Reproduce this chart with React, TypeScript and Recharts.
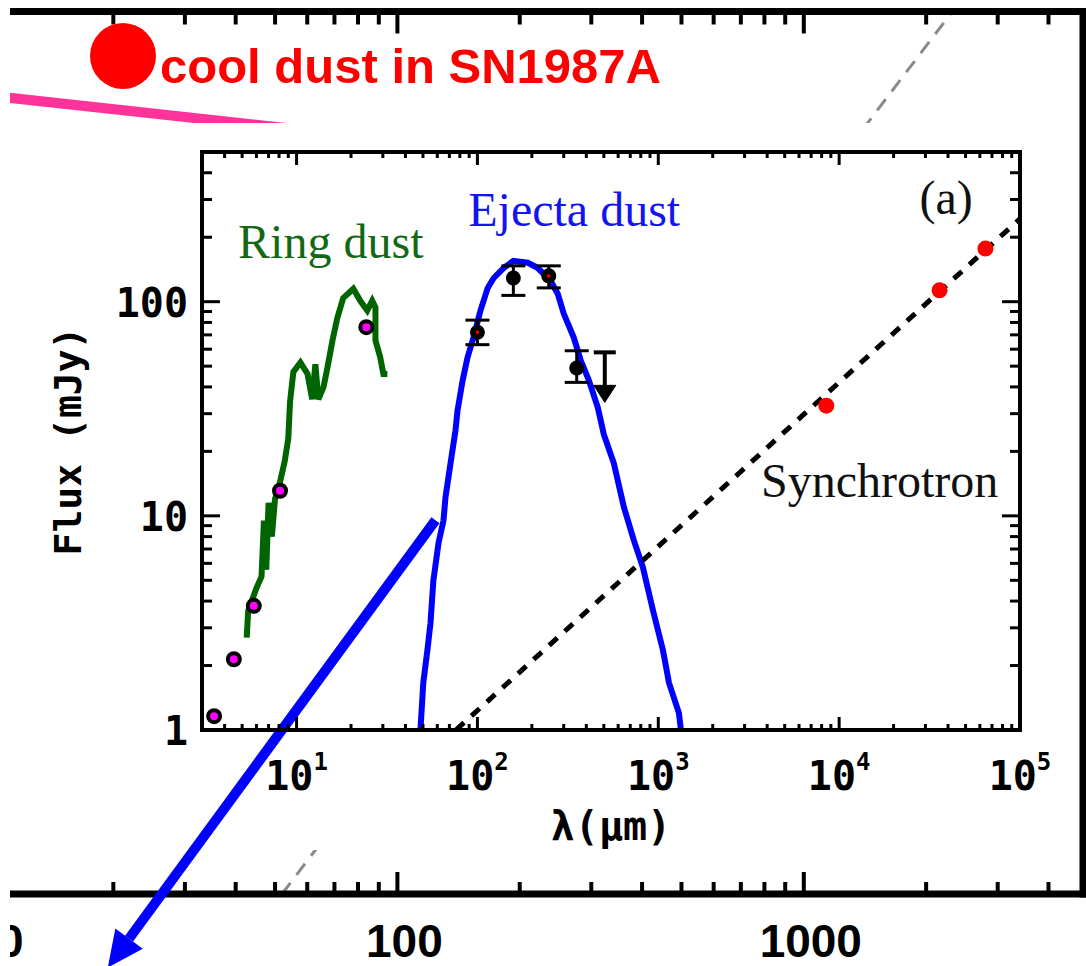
import {
  ComposedChart,
  Line,
  Scatter,
  XAxis,
  YAxis,
  ErrorBar,
  ReferenceDot,
  ReferenceLine,
} from "recharts";

// inset: SED of SN1987A, lambda in micron, flux in mJy
const ringSpectrum = [
  { x: 5.3, y: 2.7 }, { x: 5.4, y: 3.6 }, { x: 6.0, y: 4.6 }, { x: 6.4, y: 5.2 },
  { x: 6.6, y: 9.5 }, { x: 6.8, y: 5.6 }, { x: 7.0, y: 11.5 }, { x: 7.3, y: 8.0 },
  { x: 7.6, y: 12.0 }, { x: 7.9, y: 13.1 }, { x: 8.6, y: 18 }, { x: 9.0, y: 23 },
  { x: 9.2, y: 34 }, { x: 9.6, y: 47 }, { x: 10.5, y: 52 }, { x: 11.5, y: 46 },
  { x: 12.2, y: 35 }, { x: 12.7, y: 51 }, { x: 13.2, y: 35 }, { x: 14.1, y: 40 },
  { x: 14.8, y: 49 }, { x: 15.8, y: 66 }, { x: 16.8, y: 84 }, { x: 18.1, y: 104 },
  { x: 20.6, y: 115 }, { x: 22.5, y: 101 }, { x: 24.6, y: 91 }, { x: 26.2, y: 101 },
  { x: 27.3, y: 94 }, { x: 27.3, y: 66 }, { x: 29, y: 55 }, { x: 30.2, y: 46 },
  { x: 31.8, y: 46 },
];

const ringPhotometry = [
  { x: 3.5, y: 1.16 }, { x: 4.5, y: 2.14 }, { x: 5.8, y: 3.8 }, { x: 8.1, y: 13.1 }, { x: 24.3, y: 76 },
];

const ejectaModel = [
  { x: 48.4, y: 1.0 }, { x: 50.2, y: 1.66 }, { x: 52.9, y: 2.36 }, { x: 55, y: 3.15 },
  { x: 57.1, y: 5.0 }, { x: 60.9, y: 7.45 }, { x: 64.9, y: 9.5 }, { x: 66.6, y: 12.2 },
  { x: 71, y: 17.6 }, { x: 75.6, y: 25 }, { x: 77.6, y: 31 }, { x: 82.8, y: 42.8 },
  { x: 88.1, y: 54.8 }, { x: 95.1, y: 68 }, { x: 104, y: 91 }, { x: 114, y: 116 },
  { x: 123, y: 129 }, { x: 140, y: 144 }, { x: 158, y: 155 }, { x: 190, y: 152 },
  { x: 215, y: 144 }, { x: 254, y: 125 }, { x: 278, y: 109 }, { x: 300, y: 88 },
  { x: 341, y: 68 }, { x: 373, y: 53 }, { x: 413, y: 43 }, { x: 463, y: 32 },
  { x: 500, y: 24 }, { x: 568, y: 17.6 }, { x: 645, y: 11 }, { x: 732, y: 7.7 },
  { x: 822, y: 5.75 }, { x: 934, y: 3.63 }, { x: 1061, y: 2.36 }, { x: 1146, y: 1.66 },
  { x: 1301, y: 1.2 }, { x: 1334, y: 1.0 },
];

// err = [below, above]
const ejectaPhotometry = [
  { x: 100, y: 72, err: [9, 10], hot: true },
  { x: 158, y: 129, err: [22, 18], hot: false },
  { x: 248, y: 132, err: [16, 15], hot: true },
  { x: 354, y: 49, err: [7, 10], hot: false },
];
const ejectaUpperLimit = [{ x: 506, y: 58 }];

const synchrotronModel = [
  { x: 76, y: 1 }, { x: 1000, y: 7.2 }, { x: 10000, y: 42 }, { x: 100000, y: 244 },
];
const radioPoints = [
  { x: 8490, y: 32.7 }, { x: 35900, y: 113 }, { x: 64400, y: 177 },
];

const insetXTicks = [
  3, 4, 5, 6, 7, 8, 9,
  10, 20, 30, 40, 50, 60, 70, 80, 90,
  100, 200, 300, 400, 500, 600, 700, 800, 900,
  1000, 2000, 3000, 4000, 5000, 6000, 7000, 8000, 9000,
  10000, 20000, 30000, 40000, 50000, 60000, 70000, 80000, 90000,
  100000,
];
const insetYTicks = [
  1, 2, 3, 4, 5, 6, 7, 8, 9,
  10, 20, 30, 40, 50, 60, 70, 80, 90,
  100, 200, 300, 400, 500,
];

const notes = [
  { text: "Ring dust", x: 4.75, y: 160 },
  { text: "Ejecta dust", x: 89, y: 226 },
  { text: "(a)", x: 27800, y: 257 },
  { text: "Synchrotron", x: 3700, y: 12.2 },
];
const noteColor: Record<string, string> = {
  "Ring dust": "#146814",
  "Ejecta dust": "#1414f0",
  "(a)": "#111",
  Synchrotron: "#111",
};

const arrowSegment = [
  { x: 58.6, y: 9.53 },
  { x: 0.904, y: 0.0777 },
];

// background slide chart
const outerXTicks = [
  10, 20, 30, 40, 50, 60, 70, 80, 90,
  100, 200, 300, 400, 500, 600, 700, 800, 900,
  1000, 2000, 3000, 4000,
];
const outerYTicks = [1, 2, 3, 4, 5, 6, 7, 8, 9, 10];
const outerSlopeLine = [
  { x: 52, y: 0.001 },
  { x: 2320, y: 10 },
];
const outerPinkLine = [
  { x: 11, y: 4.07 },
  { x: 316, y: 2.07 },
];

const MONO = "'DejaVu Sans Mono', monospace";
const SERIF = "'Liberation Serif', 'Times New Roman', serif";
const SANS = "'Liberation Sans', Arial, sans-serif";

const isDecade = (v: number) => Math.abs(Math.log10(v) - Math.round(Math.log10(v))) < 1e-6;

function InsetBottomTick({ x, y, payload }: any) {
  const v = payload.value;
  const major = isDecade(v);
  return (
    <g>
      <line x1={x} x2={x} y1={y} y2={y - (major ? 13 : 6)} stroke="#000" strokeWidth={3} />
      {major && (
        <text x={x} y={y + 60} textAnchor="middle" fontFamily={MONO} fontWeight="bold" fontSize={40} fill="#000">
          10
          <tspan dy={-20} fontSize={24}>
            {Math.round(Math.log10(v))}
          </tspan>
        </text>
      )}
    </g>
  );
}

function InsetTopTick({ x, y, payload }: any) {
  const major = isDecade(payload.value);
  return <line x1={x} x2={x} y1={y} y2={y + (major ? 13 : 6)} stroke="#000" strokeWidth={3} />;
}

function InsetLeftTick({ x, y, payload }: any) {
  const v = payload.value;
  const major = isDecade(v);
  return (
    <g>
      <line x1={x} x2={x + (major ? 18 : 10)} y1={y} y2={y} stroke="#000" strokeWidth={3} />
      {major && (
        <text x={x - 14} y={y + 15} textAnchor="end" fontFamily={MONO} fontWeight="bold" fontSize={40} fill="#000">
          {v}
        </text>
      )}
    </g>
  );
}

function InsetRightTick({ x, y, payload }: any) {
  const major = isDecade(payload.value);
  return <line x1={x} x2={x - (major ? 18 : 10)} y1={y} y2={y} stroke="#000" strokeWidth={3} />;
}

function OuterBottomTick({ x, y, payload }: any) {
  const v = payload.value;
  const major = isDecade(v);
  return (
    <g>
      <line x1={x} x2={x} y1={y} y2={y - (major ? 22 : 12)} stroke="#000" strokeWidth={4} />
      {major && (
        <text x={x + 7} y={y + 63} textAnchor="middle" fontFamily={SANS} fontWeight="bold" fontSize={46} fill="#000">
          {v}
        </text>
      )}
    </g>
  );
}

function OuterTopTick({ x, y, payload }: any) {
  const major = isDecade(payload.value);
  return <line x1={x} x2={x} y1={y} y2={y + (major ? 22 : 13)} stroke="#000" strokeWidth={4} />;
}

function RingMarker({ cx, cy }: any) {
  return <circle cx={cx} cy={cy} r={6} fill="#ff00ff" stroke="#000" strokeWidth={4} />;
}

function EjectaMarker({ cx, cy, payload }: any) {
  return (
    <g>
      <circle cx={cx} cy={cy} r={7.5} fill="#000" />
      {payload.hot && <rect x={cx - 1.5} y={cy - 1.5} width={3} height={3} fill="#ff0000" />}
    </g>
  );
}

function UpperLimitMarker({ cx, cy }: any) {
  return (
    <g stroke="#000" strokeWidth={4}>
      <line x1={cx - 11} x2={cx + 11} y1={cy} y2={cy} />
      <line x1={cx} x2={cx} y1={cy} y2={cy + 38} />
      <polygon
        points={`${cx - 11},${cy + 33} ${cx + 11},${cy + 33} ${cx},${cy + 50}`}
        fill="#000"
        strokeWidth={1}
      />
    </g>
  );
}

function RadioMarker({ cx, cy }: any) {
  return <circle cx={cx} cy={cy} r={8} fill="#ff0000" />;
}

function BlueArrow({ x1, y1, x2, y2 }: any) {
  const dx = x2 - x1;
  const dy = y2 - y1;
  const len = Math.hypot(dx, dy);
  const ux = dx / len;
  const uy = dy / len;
  const head = 36;
  const half = 17;
  const bx = x2 - ux * head;
  const by = y2 - uy * head;
  return (
    <g>
      <line x1={x1} y1={y1} x2={bx} y2={by} stroke="#0000ff" strokeWidth={10} />
      <polygon
        points={`${x2},${y2} ${bx - uy * half},${by + ux * half} ${bx + uy * half},${by - ux * half}`}
        fill="#0000ff"
      />
    </g>
  );
}

const frameLine = { stroke: "#000", strokeWidth: 4, strokeLinecap: "square" as const };
const outerLine = { stroke: "#000", strokeWidth: 7, strokeLinecap: "square" as const };

export default function App() {
  return (
    <div style={{ position: "relative", width: 1086, height: 966, overflow: "hidden", background: "#fff" }}>
      <style>{"body{margin:0}"}</style>

      {/* slide background chart */}
      <div style={{ position: "absolute", left: 10, top: 0, width: 1076, height: 966, overflow: "hidden" }}>
        <div style={{ position: "absolute", left: -19, top: 0 }}>
          <ComposedChart width={1100} height={966} margin={{ top: 10.5, right: 8, bottom: 71, left: 0 }}>
            <XAxis
              dataKey="x"
              type="number"
              scale="log"
              domain={[10, 4864]}
              allowDataOverflow
              ticks={outerXTicks}
              interval={0}
              height={1}
              tickSize={0}
              tickMargin={0}
              tickLine={false}
              axisLine={outerLine}
              tick={(p: any) => <OuterBottomTick {...p} />}
            />
            <XAxis
              xAxisId="top"
              orientation="top"
              dataKey="x"
              type="number"
              scale="log"
              domain={[10, 4864]}
              allowDataOverflow
              ticks={outerXTicks}
              interval={0}
              height={1}
              tickSize={0}
              tickMargin={0}
              tickLine={false}
              axisLine={outerLine}
              tick={(p: any) => <OuterTopTick {...p} />}
            />
            <YAxis
              dataKey="y"
              orientation="right"
              mirror
              type="number"
              scale="log"
              domain={[0.001, 10]}
              allowDataOverflow
              ticks={outerYTicks}
              interval={0}
              width={1}
              tick={false}
              tickSize={9}
              tickLine={{ stroke: "#000", strokeWidth: 4 }}
              axisLine={outerLine}
            />
            <Line
              data={outerPinkLine}
              dataKey="y"
              stroke="#ff3399"
              strokeWidth={10}
              dot={false}
              isAnimationActive={false}
            />
            <Line
              data={outerSlopeLine}
              dataKey="y"
              stroke="#8a8a8a"
              strokeWidth={3}
              strokeDasharray="14 10"
              dot={false}
              isAnimationActive={false}
            />
          </ComposedChart>
        </div>
      </div>

      <div style={{ position: "absolute", left: 90, top: 23, width: 66, height: 66, borderRadius: "50%", background: "#ff0000" }} />
      <div
        style={{
          position: "absolute",
          left: 160,
          top: 42,
          fontFamily: SANS,
          fontWeight: "bold",
          fontSize: 49,
          lineHeight: "49px",
          color: "#ff0000",
          whiteSpace: "nowrap",
        }}
      >
        cool dust in SN1987A
      </div>

      {/* pasted figure area */}
      <div style={{ position: "absolute", left: 0, top: 123, width: 1079, height: 727, background: "#fff" }} />

      <div style={{ position: "absolute", left: 0, top: 0 }}>
        <ComposedChart width={1086} height={966} margin={{ top: 151, right: 65, bottom: 235, left: 201 }}>
          <XAxis
            dataKey="x"
            type="number"
            scale="log"
            domain={[3, 100000]}
            allowDataOverflow
            ticks={insetXTicks}
            interval={0}
            height={1}
            tickSize={0}
            tickMargin={0}
            tickLine={false}
            axisLine={frameLine}
            tick={(p: any) => <InsetBottomTick {...p} />}
            label={{
              content: ({ viewBox }: any) => (
                <text
                  x={viewBox.x + viewBox.width / 2}
                  y={viewBox.y + 110}
                  textAnchor="middle"
                  fontFamily={MONO}
                  fontWeight="bold"
                  fontSize={40}
                  fill="#000"
                >
                  λ(μm)
                </text>
              ),
            }}
          />
          <XAxis
            xAxisId="top"
            orientation="top"
            dataKey="x"
            type="number"
            scale="log"
            domain={[3, 100000]}
            allowDataOverflow
            ticks={insetXTicks}
            interval={0}
            height={1}
            tickSize={0}
            tickMargin={0}
            tickLine={false}
            axisLine={frameLine}
            tick={(p: any) => <InsetTopTick {...p} />}
          />
          <YAxis
            dataKey="y"
            type="number"
            scale="log"
            domain={[1, 500]}
            allowDataOverflow
            ticks={insetYTicks}
            interval={0}
            width={1}
            tickSize={0}
            tickMargin={0}
            tickLine={false}
            axisLine={frameLine}
            tick={(p: any) => <InsetLeftTick {...p} />}
            label={{
              content: ({ viewBox }: any) => (
                <text
                  transform={`translate(${viewBox.x - 133},${viewBox.y + viewBox.height / 2}) rotate(-90)`}
                  textAnchor="middle"
                  dominantBaseline="central"
                  fontFamily={MONO}
                  fontWeight="bold"
                  fontSize={38}
                  fill="#000"
                >
                  Flux (mJy)
                </text>
              ),
            }}
          />
          <YAxis
            yAxisId="right"
            orientation="right"
            dataKey="y"
            type="number"
            scale="log"
            domain={[1, 500]}
            allowDataOverflow
            ticks={insetYTicks}
            interval={0}
            width={1}
            tickSize={0}
            tickMargin={0}
            tickLine={false}
            axisLine={frameLine}
            tick={(p: any) => <InsetRightTick {...p} />}
          />

          <Line data={ringSpectrum} dataKey="y" stroke="#006400" strokeWidth={6} dot={false} isAnimationActive={false} />
          <Scatter data={ringPhotometry} dataKey="y" shape={(p: any) => <RingMarker {...p} />} isAnimationActive={false} />
          <Line data={ejectaModel} dataKey="y" stroke="#0000ff" strokeWidth={6} dot={false} isAnimationActive={false} />
          <Scatter data={ejectaPhotometry} dataKey="y" shape={(p: any) => <EjectaMarker {...p} />} isAnimationActive={false}>
            <ErrorBar dataKey="err" direction="y" width={12} strokeWidth={3} stroke="#000" />
          </Scatter>
          <Scatter data={ejectaUpperLimit} dataKey="y" shape={(p: any) => <UpperLimitMarker {...p} />} isAnimationActive={false} />
          <Scatter data={radioPoints} dataKey="y" shape={(p: any) => <RadioMarker {...p} />} isAnimationActive={false} />
          <Line
            data={synchrotronModel}
            dataKey="y"
            stroke="#000"
            strokeWidth={5}
            strokeDasharray="11 10"
            dot={false}
            isAnimationActive={false}
          />

          {notes.map((n) => (
            <ReferenceDot
              key={n.text}
              x={n.x}
              y={n.y}
              r={0}
              fill="none"
              stroke="none"
              label={{
                content: ({ viewBox }: any) => (
                  <text x={viewBox.x} y={viewBox.y} fontFamily={SERIF} fontSize={48} fill={noteColor[n.text]}>
                    {n.text}
                  </text>
                ),
              }}
            />
          ))}

          <ReferenceLine segment={arrowSegment} ifOverflow="visible" shape={(p: any) => <BlueArrow {...p} />} />
        </ComposedChart>
      </div>
    </div>
  );
}
